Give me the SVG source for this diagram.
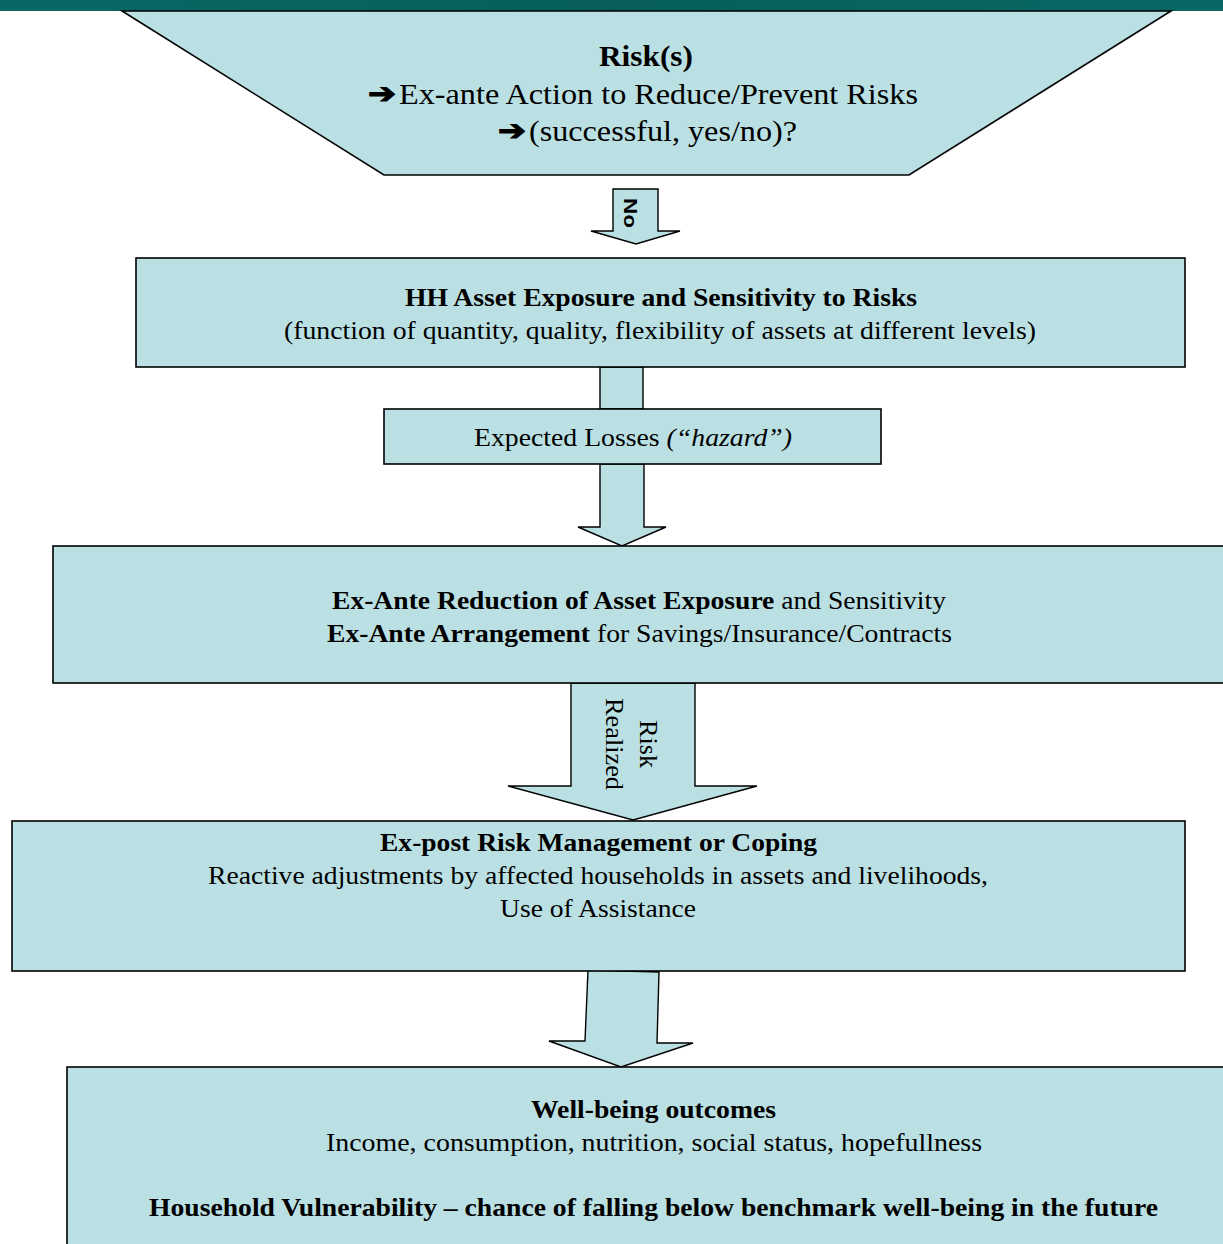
<svg xmlns="http://www.w3.org/2000/svg" width="1223" height="1244" viewBox="0 0 1223 1244">
<defs>
<linearGradient id="band" x1="0" y1="0" x2="1" y2="0">
<stop offset="0" stop-color="#0a6864"/>
<stop offset="0.5" stop-color="#075e5a"/>
<stop offset="1" stop-color="#0a6864"/>
</linearGradient>
<style>
.box{fill:#BBE0E3;stroke:#000;stroke-width:1.6}
.arr{fill:#BBE0E3;stroke:#000;stroke-width:1.4;stroke-linejoin:miter}
.t{font-family:"Liberation Serif","Times New Roman",serif;font-size:26px;fill:#000;text-anchor:middle}
.big{font-size:30px}
.s{text-anchor:start}
.b{font-weight:bold}
.i{font-style:italic}
.sym{font-family:"DejaVu Sans",sans-serif;font-weight:bold;font-size:28px;fill:#000;stroke:#000;stroke-width:1.2}
.no{font-family:"Liberation Sans",Arial,sans-serif;font-weight:bold;font-size:19px;text-anchor:middle}
</style>
</defs>
<rect width="1223" height="1244" fill="#fff"/>
<rect x="0" y="0" width="1223" height="11" fill="url(#band)"/>

<g id="connectors">
<polygon class="arr" points="613,189 658,189 658,231 680,231 636,244 591,231 613,231"/>
<text class="no" transform="translate(635,213) rotate(90)" y="11" textLength="30" lengthAdjust="spacingAndGlyphs">No</text>
<polygon class="arr" points="600,367 643,367 643,409 600,409"/>
<polygon class="arr" points="600,464 644,464 644,527 666,527 622,546 578,527 600,527"/>
<polygon class="arr" points="571,683 695,683 695,786 757,786 633,820 508,786 571,786"/>
<text class="t" transform="translate(633,744) rotate(90)"><tspan x="0" y="-7" textLength="48" lengthAdjust="spacingAndGlyphs">Risk</tspan><tspan x="0" y="27" textLength="92" lengthAdjust="spacingAndGlyphs">Realized</tspan></text>
<polygon class="arr" points="588,970 659,972 657,1043 693,1043 621,1067 549,1041 585,1041"/>
</g>

<g id="node-risks">
<polygon class="box" points="122,11 1171,11 909,175 384,175"/>
<text class="t big b" x="646" y="66" textLength="94" lengthAdjust="spacingAndGlyphs">Risk(s)</text>
<text class="sym" x="368" y="103" textLength="28" lengthAdjust="spacingAndGlyphs">➔</text>
<text class="t big s" x="399" y="104" textLength="519" lengthAdjust="spacingAndGlyphs">Ex-ante Action to Reduce/Prevent Risks</text>
<text class="sym" x="498" y="140" textLength="28" lengthAdjust="spacingAndGlyphs">➔</text>
<text class="t big s" x="529" y="141" textLength="268" lengthAdjust="spacingAndGlyphs">(successful, yes/no)?</text>
</g>

<g id="node-exposure">
<rect class="box" x="136" y="258" width="1049" height="109"/>
<text class="t b" x="661" y="306" textLength="512" lengthAdjust="spacingAndGlyphs">HH Asset Exposure and Sensitivity to Risks</text>
<text class="t" x="660" y="339" textLength="752" lengthAdjust="spacingAndGlyphs">(function of quantity, quality, flexibility of assets at different levels)</text>
</g>

<g id="node-losses">
<rect class="box" x="384" y="409" width="497" height="55"/>
<text class="t" x="633" y="446" textLength="318" lengthAdjust="spacingAndGlyphs">Expected Losses <tspan class="i">(“hazard”)</tspan></text>
</g>

<g id="node-exante">
<rect class="box" x="53" y="546" width="1175" height="137"/>
<text class="t" x="639" y="609" textLength="614" lengthAdjust="spacingAndGlyphs"><tspan class="b">Ex-Ante Reduction of Asset Exposure</tspan> and Sensitivity</text>
<text class="t" x="639.5" y="642" textLength="625" lengthAdjust="spacingAndGlyphs"><tspan class="b">Ex-Ante Arrangement</tspan> for Savings/Insurance/Contracts</text>
</g>

<g id="node-expost">
<rect class="box" x="12" y="821" width="1173" height="150"/>
<text class="t b" x="598.5" y="851" textLength="437" lengthAdjust="spacingAndGlyphs">Ex-post Risk Management or Coping</text>
<text class="t" x="598" y="884" textLength="780" lengthAdjust="spacingAndGlyphs">Reactive adjustments by affected households in assets and livelihoods,</text>
<text class="t" x="598" y="917" textLength="196" lengthAdjust="spacingAndGlyphs">Use of Assistance</text>
</g>

<g id="node-wellbeing">
<rect class="box" x="67" y="1067" width="1165" height="190"/>
<text class="t b" x="653.5" y="1118" textLength="245" lengthAdjust="spacingAndGlyphs">Well-being outcomes</text>
<text class="t" x="654" y="1151" textLength="656" lengthAdjust="spacingAndGlyphs">Income, consumption, nutrition, social status,  hopefullness</text>
<text class="t b" x="653.5" y="1216" textLength="1009" lengthAdjust="spacingAndGlyphs">Household Vulnerability – chance of falling below benchmark well-being in the future</text>
</g>
</svg>
